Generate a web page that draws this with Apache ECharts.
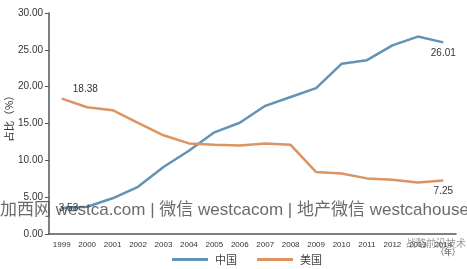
<!DOCTYPE html>
<html><head><meta charset="utf-8">
<script src="https://cdn.jsdelivr.net/npm/echarts@6/dist/echarts.min.js"></script>
<style>html,body{margin:0;padding:0;background:#fff}#c{width:467px;height:269px}</style>
</head><body><div id="c"></div>
<script>
var years = ['1999','2000','2001','2002','2003','2004','2005','2006','2007','2008','2009','2010','2011','2012','2013','2014'];
var china = [3.53, 3.7, 4.85, 6.4, 9.1, 11.3, 13.8, 15.1, 17.4, 18.6, 19.8, 23.1, 23.6, 25.6, 26.8, 26.01];
var usa = [18.38, 17.2, 16.8, 15.1, 13.4, 12.3, 12.1, 12.0, 12.3, 12.1, 8.4, 8.2, 7.55, 7.35, 7.0, 7.25];
var yTicks = [0, 5, 10, 15, 20, 25, 30];
var seriesNames = ['中国', '美国'];
var yName = '占比（%）';

function labeled(arr, idxs) {
  return arr.map(function (v, i) {
    if (idxs[i]) return { value: v, label: Object.assign({ show: true, formatter: v.toFixed(2) }, idxs[i]) };
    return v;
  });
}

var chart = echarts.init(document.getElementById('c'));
chart.setOption({
  animation: false,
  backgroundColor: '#fff',
  grid: { left: 49, right: 11, top: 13, bottom: 35, containLabel: false, outerBoundsMode: 'none' },
  legend: {
    bottom: -1, left: 167, itemWidth: 36, itemHeight: 3, itemGap: 20,
    icon: 'rect',
    textStyle: { fontSize: 11, color: '#444', fontFamily: 'Noto Sans CJK SC', padding: [0, 0, 0, 2] },
    data: seriesNames
  },
  xAxis: {
    type: 'category', data: years, boundaryGap: true,
    axisLine: { lineStyle: { color: '#555', width: 1.5 } },
    axisTick: { show: false },
    axisLabel: { fontSize: 8, color: '#333', margin: 7, interval: 0, fontFamily: 'Liberation Sans' }
  },
  yAxis: {
    type: 'value', min: yTicks[0], max: yTicks[yTicks.length - 1], interval: 5,
    axisLine: { show: true, lineStyle: { color: '#555', width: 1.5 } },
    axisTick: { show: true, length: 4, lineStyle: { color: '#555' } },
    splitLine: { show: false },
    axisLabel: { fontSize: 10, color: '#333', margin: 6, fontFamily: 'Liberation Sans',
      formatter: function (v) { return v.toFixed(2); } }
  },
  series: [
    { name: seriesNames[0], type: 'line', symbol: 'circle', symbolSize: 0.1, showSymbol: true, smooth: false,
      lineStyle: { color: '#6393b5', width: 2.5 }, itemStyle: { color: '#6393b5' },
      label: { fontSize: 10, color: '#333', fontFamily: 'Liberation Sans' },
      data: labeled(china, { 0: { position: 'right', offset: [-8, 0] }, 15: { position: 'bottom', offset: [0, 1] } }) },
    { name: seriesNames[1], type: 'line', symbol: 'circle', symbolSize: 0.1, showSymbol: true, smooth: false,
      lineStyle: { color: '#dc9462', width: 2.5 }, itemStyle: { color: '#dc9462' },
      label: { fontSize: 10, color: '#333', fontFamily: 'Liberation Sans' },
      data: labeled(usa, { 0: { position: 'right', offset: [6, -9] }, 15: { position: 'bottom', offset: [0, 1] } }) }
  ],
  graphic: [
    { type: 'text', x: 9, y: 116, rotation: Math.PI / 2, style: { text: yName, fontSize: 10.5, fill: '#333', align: 'center', verticalAlign: 'middle', fontFamily: 'Noto Sans CJK SC' }, z: 100 },
    { type: 'text', left: 436, top: 248, style: { text: '（年）', fontSize: 8, fill: '#444', fontFamily: 'Noto Sans CJK SC' }, z: 100 },
    { type: 'text', left: 406, top: 238, style: { text: '战略前沿技术', fontSize: 10, fill: 'rgba(110,110,110,0.7)', fontFamily: 'Noto Sans CJK SC' }, z: 100 },
    { type: 'text', left: 0, top: 202, style: { text: '加西网 westca.com | 微信 westcacom | 地产微信 westcahouse', fontSize: 17, fill: 'rgba(80,80,80,0.85)', fontFamily: 'Liberation Sans, Noto Sans CJK SC' }, z: 100 }
  ]
});
</script></body></html>
